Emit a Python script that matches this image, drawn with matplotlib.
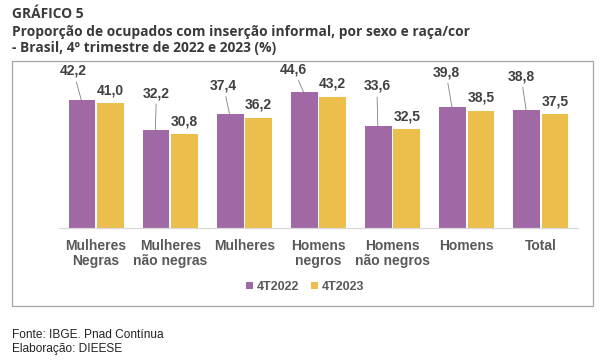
import matplotlib
matplotlib.use("Agg")
import matplotlib.pyplot as plt
import numpy as np
from matplotlib.patches import Rectangle

categories = ["Mulheres\nNegras", "Mulheres\nnão negras", "Mulheres", "Homens\nnegros",
              "Homens\nnão negros", "Homens", "Total"]
values_2022 = [42.2, 32.2, 37.4, 44.6, 33.6, 39.8, 38.8]
values_2023 = [41.0, 30.8, 36.2, 43.2, 32.5, 38.5, 37.5]
series_names = ["4T2022", "4T2023"]

# label offsets (pixels) for the purple labels, which sit above-left with leader lines
label_offsets_2022 = [(-8, 22), (1, 30), (-6, 22), (-10, 16), (-1, 33), (-6, 28), (-5, 27)]

PURPLE = "#A069A6"
YELLOW = "#ECBE4B"
LABEL = "#404040"

plt.rcParams["font.family"] = ["Liberation Sans", "DejaVu Sans"]

fig = plt.figure(figsize=(6.05, 3.64), dpi=100)
W, H = 605, 364

def fx(px):
    return px / W

def fy(py):
    return 1 - py / H

# outer box
fig.patches.append(Rectangle((fx(12), fy(306)), fx(593) - fx(12), fy(61) - fy(306),
                             transform=fig.transFigure, fill=False,
                             edgecolor="#A6A6A6", lw=0.9))

title_kw = dict(fontsize=9.9, fontweight="bold", family="Open Sans", color="#3A3A3A",
                va="center", ha="left")
fig.text(fx(12), fy(14), "GRÁFICO 5", **title_kw)
fig.text(fx(12), fy(32), "Proporção de ocupados com inserção informal, por sexo e raça/cor",
         **title_kw)
fig.text(fx(12), fy(48), "- Brasil, 4º trimestre de 2022 e 2023 (%)", **title_kw)

fig.text(fx(12), fy(335), "Fonte: IBGE. Pnad Contínua", fontsize=8.6, color="#222222",
         va="center", ha="left")
fig.text(fx(12), fy(349), "Elaboração: DIEESE", fontsize=8.6, color="#222222",
         va="center", ha="left")

ax = fig.add_axes([fx(59), fy(228), fx(578) - fx(59), fy(76) - fy(228)])
x = np.arange(len(categories))
w = 0.36
off = 0.19
b1 = ax.bar(x - off, values_2022, w, color=PURPLE, label=series_names[0])
b2 = ax.bar(x + off, values_2023, w, color=YELLOW, label=series_names[1])

ax.set_xlim(-0.5, len(categories) - 0.5)
ax.set_ylim(0, 50)

for xi, v, (dx, dy) in zip(x, values_2022, label_offsets_2022):
    ax.annotate(f"{v:.1f}".replace(".", ","), xy=(xi - off - 0.01, v),
                xytext=(dx, dy), textcoords="offset pixels",
                ha="center", va="bottom", fontsize=10, fontweight="bold", color=LABEL,
                arrowprops=dict(arrowstyle="-", color="#7F7F7F", lw=0.6,
                                shrinkA=1, shrinkB=0),
                annotation_clip=False)

for xi, v in zip(x, values_2023):
    ax.annotate(f"{v:.1f}".replace(".", ","), xy=(xi + off, v),
                xytext=(0, 6), textcoords="offset pixels",
                ha="center", va="bottom", fontsize=10, fontweight="bold", color=LABEL,
                annotation_clip=False)

for s in ["top", "right", "left"]:
    ax.spines[s].set_visible(False)
ax.spines["bottom"].set_color("#D9D9D9")
ax.spines["bottom"].set_linewidth(0.9)
ax.set_yticks([])
ax.set_xticks(x)
ax.set_xticklabels(categories, fontsize=10, fontweight="bold", color="#595959",
                   linespacing=1.05)
ax.tick_params(axis="x", length=0, pad=8)

leg = fig.legend(handles=[b1, b2], labels=series_names, loc="center",
                 bbox_to_anchor=(fx(305), fy(287)), ncol=2, frameon=False,
                 handlelength=0.55, handleheight=0.55, handletextpad=0.3,
                 columnspacing=1.0, prop={"weight": "bold", "size": 9})
for t in leg.get_texts():
    t.set_color("#595959")

fig.savefig("out.png", dpi=100)
